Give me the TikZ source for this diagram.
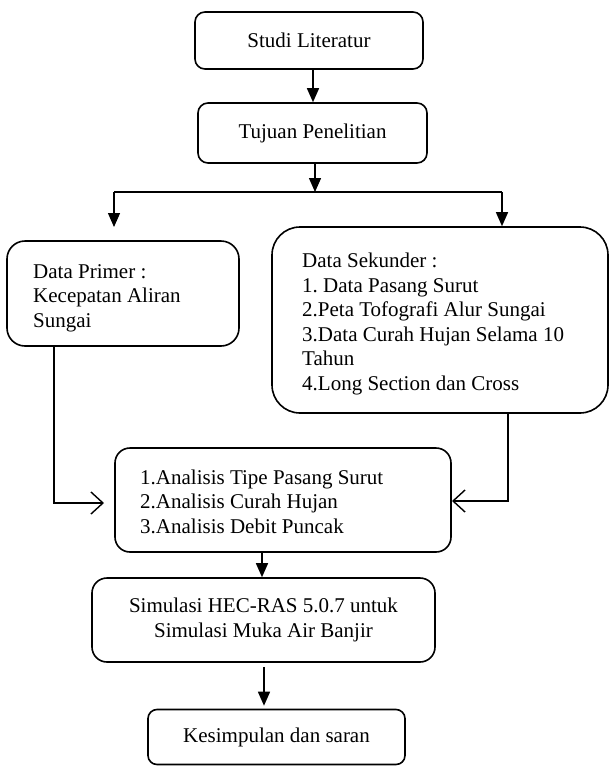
\documentclass[tikz,border=0pt]{standalone}
\usepackage{fontspec}
\setmainfont{Liberation Serif}
\usetikzlibrary{arrows.meta,calc}
\begin{document}
\frenchspacing
\begin{tikzpicture}[x=1pt,y=-1pt,
  box/.style={draw, line width=1.6pt, inner sep=0pt, font=\fontsize{21}{24.5}\selectfont\frenchspacing, align=center},
  frame/.style={draw, line width=1.6pt, inner sep=0pt},
  txt/.style={inner sep=0pt, font=\fontsize{21}{24.5}\selectfont\frenchspacing, align=left, anchor=base west},
  arr/.style={line width=1.4pt, -{Triangle[length=14pt,width=12pt]}},
  openarr/.style={line width=1.4pt, -{Straight Barb[length=12pt,width=22pt,line width=1.4pt]}},
  plain/.style={line width=1.4pt}]
\useasboundingbox (0,0) rectangle (609,766);

\node[box, rounded corners=10pt, minimum width=228pt, minimum height=57pt] (studi) at (309,40.5) {Studi Literatur};
\node[box, rounded corners=10pt, minimum width=229pt, minimum height=60pt] (tujuan) at (312.5,133) {Tujuan Penelitian};

\node[frame, rounded corners=18pt, minimum width=232pt, minimum height=105pt] (dp) at (123,293.5) {};
\node[txt] (dpT) at (33,327) {Data Primer :\\Kecepatan Aliran\\Sungai};

\node[frame, rounded corners=28pt, minimum width=336pt, minimum height=186pt] (sek) at (440,320) {};
\node[txt] (sekT) at (302,390) {Data Sekunder :\\1. Data Pasang Surut\\2.Peta Tofografi Alur Sungai\\3.Data Curah Hujan Selama 10\\Tahun\\4.Long Section dan Cross};

\node[frame, rounded corners=15pt, minimum width=336pt, minimum height=104pt] (an) at (283,500) {};
\node[txt] (anT) at (140,533) {1.Analisis Tipe Pasang Surut\\2.Analisis Curah Hujan\\3.Analisis Debit Puncak};

\node[box, rounded corners=15pt, minimum width=343pt, minimum height=84pt] (sim) at (263.5,620) {Simulasi HEC-RAS 5.0.7 untuk\\Simulasi Muka Air Banjir};
\node[box, rounded corners=9pt, minimum width=257pt, minimum height=55pt] (kes) at (276.5,737) {Kesimpulan dan saran};

\coordinate (c1) at (313,0);
\coordinate (br) at (315,192);
\coordinate (bl) at (114,192);
\coordinate (brr) at (502,192);
\coordinate (dpin) at (114,227);
\coordinate (lx) at (54,503);
\coordinate (lend) at (104,503);
\coordinate (rx) at (508,501);
\coordinate (rend) at (452,501);
\coordinate (c2) at (262,0);
\coordinate (c3) at (264,0);

\draw[arr] (studi.south -| c1) -- (tujuan.north -| c1);
\draw[arr] (tujuan.south -| br) -- (br);
\draw[plain] (bl) -- (brr);
\draw[arr] (bl) -- (dpin);
\draw[arr] (brr) -- (sek.north -| brr);
\draw[openarr] (dp.south -| lx) |- (lend);
\draw[openarr] (sek.south -| rx) |- (rend);
\draw[arr] (an.south -| c2) -- (sim.north -| c2);
\draw[arr, shorten <=4pt, shorten >=3pt] (sim.south -| c3) -- (kes.north -| c3);
\end{tikzpicture}
\end{document}
